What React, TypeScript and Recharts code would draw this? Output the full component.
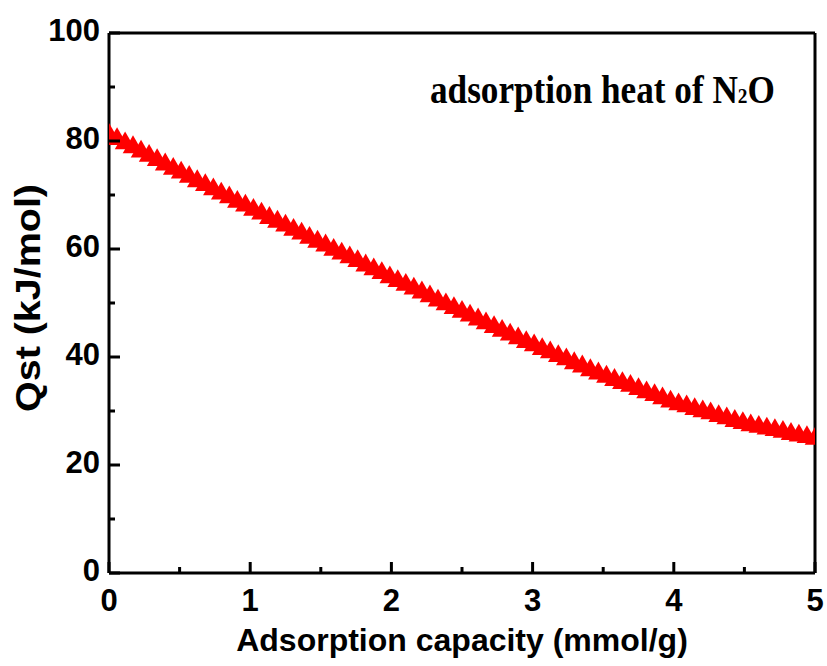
import { ScatterChart, Scatter, XAxis, YAxis } from 'recharts';

// adsorption capacity (mmol/g)
const capacity = [
  0, 0.057, 0.114, 0.170, 0.227, 0.284, 0.341, 0.398, 0.455, 0.511,
  0.568, 0.625, 0.682, 0.739, 0.795, 0.852, 0.909, 0.966, 1.023, 1.080,
  1.136, 1.193, 1.250, 1.307, 1.364, 1.420, 1.477, 1.534, 1.591, 1.648,
  1.705, 1.761, 1.818, 1.875, 1.932, 1.989, 2.045, 2.102, 2.159, 2.216,
  2.273, 2.330, 2.386, 2.443, 2.500, 2.557, 2.614, 2.670, 2.727, 2.784,
  2.841, 2.898, 2.955, 3.011, 3.068, 3.125, 3.182, 3.239, 3.295, 3.352,
  3.409, 3.466, 3.523, 3.580, 3.636, 3.693, 3.750, 3.807, 3.864, 3.920,
  3.977, 4.034, 4.091, 4.148, 4.205, 4.261, 4.318, 4.375, 4.432, 4.489,
  4.545, 4.602, 4.659, 4.716, 4.773, 4.830, 4.886, 4.943, 5.000,
];

// isosteric heat Qst (kJ/mol)
const qst = [
  81.7, 80.9, 80.1, 79.4, 78.6, 77.8, 77.0, 76.2, 75.4, 74.7,
  73.9, 73.1, 72.4, 71.6, 70.8, 70.1, 69.3, 68.6, 67.8, 67.1,
  66.3, 65.6, 64.9, 64.1, 63.4, 62.6, 61.9, 61.2, 60.4, 59.7,
  59.0, 58.3, 57.5, 56.8, 56.1, 55.3, 54.6, 53.9, 53.2, 52.5,
  51.8, 51.0, 50.3, 49.6, 48.9, 48.2, 47.5, 46.8, 46.1, 45.4,
  44.7, 44.0, 43.3, 42.7, 42.0, 41.4, 40.7, 40.1, 39.4, 38.8,
  38.1, 37.5, 36.9, 36.3, 35.7, 35.2, 34.6, 34.0, 33.5, 32.9,
  32.3, 31.8, 31.4, 30.9, 30.5, 30.1, 29.6, 29.2, 28.7, 28.3,
  27.9, 27.6, 27.3, 27.0, 26.7, 26.3, 26.0, 25.7, 25.4,
];

const xTicks = [0, 0.5, 1, 1.5, 2, 2.5, 3, 3.5, 4, 4.5, 5];
const yTicks = [0, 10, 20, 30, 40, 50, 60, 70, 80, 90, 100];

const data = capacity.map((x, i) => ({ x, q: qst[i] }));

const SANS = '"Liberation Sans", Arial, sans-serif';
const SERIF = '"Liberation Serif", "Times New Roman", serif';

const isMajorX = (v: number) => Number.isInteger(v);
const isMajorY = (v: number) => v % 20 === 0;

function BottomTick(props: any) {
  const { x, y, payload } = props;
  const major = isMajorX(payload.value);
  return (
    <g>
      <line x1={x} y1={y} x2={x} y2={y - (major ? 11 : 6)} stroke="#000" strokeWidth={3} />
      {major && (
        <text x={x} y={y + 38} textAnchor="middle" fontFamily={SANS} fontWeight="bold" fontSize={31} fill="#000">
          {payload.value}
        </text>
      )}
    </g>
  );
}

function TopTick(props: any) {
  const { x, y, payload } = props;
  const major = isMajorX(payload.value);
  return <line x1={x} y1={y} x2={x} y2={y + (major ? 11 : 6)} stroke="#000" strokeWidth={3} />;
}

function LeftTick(props: any) {
  const { x, y, payload } = props;
  const major = isMajorY(payload.value);
  return (
    <g>
      <line x1={x} y1={y} x2={x + (major ? 11 : 6)} y2={y} stroke="#000" strokeWidth={3} />
      {major && (
        <text x={x - 9} y={y + 8} textAnchor="end" fontFamily={SANS} fontWeight="bold" fontSize={31} fill="#000">
          {payload.value}
        </text>
      )}
    </g>
  );
}

function RightTick(props: any) {
  const { x, y, payload } = props;
  const major = isMajorY(payload.value);
  return <line x1={x} y1={y} x2={x - (major ? 11 : 6)} y2={y} stroke="#000" strokeWidth={3} />;
}

function Triangle(props: any) {
  const { cx, cy } = props;
  const h = 8.9;
  return (
    <polygon
      points={`${cx},${cy - h} ${cx - 10.3},${cy + h} ${cx + 10.3},${cy + h}`}
      fill="#ff0000"
    />
  );
}

const axisLine = { stroke: '#000', strokeWidth: 3 };

export default function App() {
  return (
    <div style={{ position: 'absolute', left: 0, top: 0, width: 827, height: 666, background: '#fff' }}>
      <ScatterChart width={827} height={666} margin={{ top: 32, right: 11, bottom: 92, left: 108 }}>
        <XAxis
          dataKey="x"
          type="number"
          domain={[0, 5]}
          ticks={xTicks}
          interval={0}
          allowDataOverflow
          height={1}
          tickSize={0}
          tickMargin={0}
          tickLine={false}
          axisLine={axisLine}
          tick={<BottomTick />}
          label={{
            content: (p: any) => (
              <text
                x={p.viewBox.x + p.viewBox.width / 2}
                y={p.viewBox.y + 78}
                textAnchor="middle"
                fontFamily={SANS}
                fontWeight="bold"
                fontSize={32}
                fill="#000"
              >
                Adsorption capacity (mmol/g)
              </text>
            ),
          }}
        />
        <XAxis
          xAxisId="top"
          orientation="top"
          dataKey="x"
          type="number"
          domain={[0, 5]}
          ticks={xTicks}
          interval={0}
          height={1}
          tickSize={0}
          tickMargin={0}
          tickLine={false}
          axisLine={axisLine}
          tick={<TopTick />}
        />
        <YAxis
          dataKey="q"
          type="number"
          domain={[0, 100]}
          ticks={yTicks}
          interval={0}
          allowDataOverflow
          width={1}
          tickSize={0}
          tickMargin={0}
          tickLine={false}
          axisLine={axisLine}
          tick={<LeftTick />}
          label={{
            content: (p: any) => {
              const cx = 40;
              const cy = p.viewBox.y + p.viewBox.height / 2 - 5;
              return (
                <text
                  x={cx}
                  y={cy}
                  transform={`rotate(-90 ${cx} ${cy})`}
                  textAnchor="middle"
                  fontFamily={SANS}
                  fontWeight="bold"
                  fontSize={35}
                  fill="#000"
                  textLength={228}
                  lengthAdjust="spacingAndGlyphs"
                >
                  Qst (kJ/mol)
                </text>
              );
            },
          }}
        />
        <YAxis
          yAxisId="right"
          orientation="right"
          dataKey="q"
          type="number"
          domain={[0, 100]}
          ticks={yTicks}
          interval={0}
          width={1}
          tickSize={0}
          tickMargin={0}
          tickLine={false}
          axisLine={axisLine}
          tick={<RightTick />}
          label={{
            content: () => (
              <g transform="scale(0.88 1)">
                <text x={430 / 0.88} y={103} fontFamily={SERIF} fontWeight="bold" fontSize={40} fill="#000">
                  adsorption heat of N<tspan fontSize={22}>2</tspan>O
                </text>
              </g>
            ),
          }}
        />
        <Scatter data={data} dataKey="q" shape={<Triangle />} isAnimationActive={false} />
      </ScatterChart>
    </div>
  );
}
